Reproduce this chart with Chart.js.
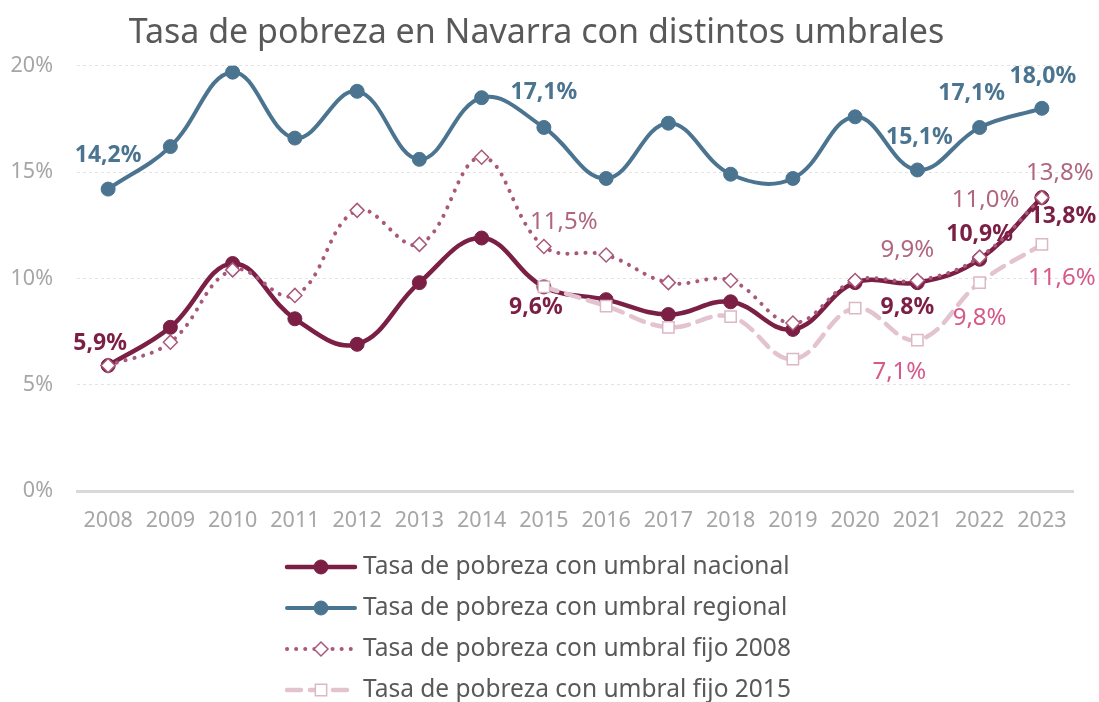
<!DOCTYPE html>
<html>
<head>
<meta charset="utf-8">
<script src="https://cdn.jsdelivr.net/npm/chart.js@4.4.0/dist/chart.umd.min.js"></script>
<style>
  html, body { margin: 0; padding: 0; background: #fff; overflow: hidden; }
</style>
</head>
<body>
<canvas id="grafico_pobreza" width="1099" height="702"></canvas>
<script>
// datos
const anios = ['2008','2009','2010','2011','2012','2013','2014','2015','2016','2017','2018','2019','2020','2021','2022','2023'];
const umbralNacional = [5.9, 7.7, 10.7, 8.1, 6.9, 9.8, 11.9, 9.6, 9.0, 8.3, 8.9, 7.6, 9.8, 9.8, 10.9, 13.8];
const umbralRegional = [14.2, 16.2, 19.7, 16.6, 18.8, 15.6, 18.5, 17.1, 14.7, 17.3, 14.9, 14.7, 17.6, 15.1, 17.1, 18.0];
const umbralFijo2008 = [5.9, 7.0, 10.4, 9.2, 13.2, 11.6, 15.7, 11.5, 11.1, 9.8, 9.9, 7.9, 9.9, 9.9, 11.0, 13.8];
const umbralFijo2015 = [null, null, null, null, null, null, null, 9.6, 8.7, 7.7, 8.2, 6.2, 8.6, 7.1, 9.8, 11.6];
const ticksY = [0, 5, 10, 15, 20];

const nombres = [
  'Tasa de pobreza con umbral nacional',
  'Tasa de pobreza con umbral regional',
  'Tasa de pobreza con umbral fijo 2008',
  'Tasa de pobreza con umbral fijo 2015'
];

const fuente = "'Noto Sans', sans-serif";
const fmt = v => v.toFixed(1).replace('.', ',') + '%';

// etiquetas: indice del año, desplazamiento dx, dy
const etiquetas = [
  { ds: 0, color: '#7b1f45', bold: true, items: [[0,-8,-22],[7,-8,21],[13,-10,25],[14,0,-25],[15,21,19]] },
  { ds: 1, color: '#4b7490', bold: true, items: [[0,0,-34],[7,0,-35],[13,2,-33],[14,-8,-34],[15,1,-32]] },
  { ds: 2, color: '#b0667f', bold: false, items: [[7,20,-24],[13,-10,-30],[14,6,-57],[15,18,-24]] },
  { ds: 3, color: '#d6598a', bold: false, items: [[13,-18,32],[14,0,36],[15,20,34]] }
];

const pluginEtiquetas = {
  id: 'etiquetas',
  afterDatasetsDraw(chart) {
    const ctx = chart.ctx;
    ctx.save();
    ctx.textAlign = 'center';
    ctx.textBaseline = 'middle';
    etiquetas.forEach(e => {
      const meta = chart.getDatasetMeta(e.ds);
      const vals = chart.data.datasets[e.ds].data;
      ctx.fillStyle = e.color;
      ctx.font = (e.bold ? 'bold 23px ' : '24px ') + fuente;
      e.items.forEach(([i, dx, dy]) => {
        const p = meta.data[i];
        ctx.fillText(fmt(vals[i]), p.x + dx, p.y + dy);
      });
    });
    ctx.restore();
  }
};

const pluginLeyenda = {
  id: 'leyenda',
  afterDraw(chart) {
    const ctx = chart.ctx;
    ctx.save();
    chart.data.datasets.forEach((d, k) => {
      const y = 567 + k * 41;
      const x0 = 287, x1 = 355, xm = 321;
      ctx.strokeStyle = d.borderColor;
      ctx.lineWidth = d.borderWidth;
      ctx.lineCap = d.borderCapStyle || 'round';
      ctx.setLineDash(d.borderDash || []);
      ctx.beginPath();
      ctx.moveTo(x0, y);
      ctx.lineTo(x1, y);
      ctx.stroke();
      ctx.setLineDash([]);
      ctx.fillStyle = d.pointBackgroundColor;
      ctx.strokeStyle = d.pointBorderColor;
      ctx.lineWidth = d.pointBorderWidth;
      Chart.helpers.drawPoint(ctx, {
        pointStyle: d.pointStyle,
        radius: d.pointRadius,
        borderWidth: d.pointBorderWidth,
        rotation: 0
      }, xm, y);
      ctx.fillStyle = '#595959';
      ctx.font = '24.5px ' + fuente;
      ctx.textAlign = 'left';
      ctx.textBaseline = 'middle';
      ctx.fillText(d.label, 363, y);
    });
    ctx.restore();
  }
};

new Chart(document.getElementById('grafico_pobreza').getContext('2d'), {
  type: 'line',
  data: {
    labels: anios,
    datasets: [
      {
        label: nombres[0], data: umbralNacional, order: 4,
        borderColor: '#7b1f45', borderWidth: 4.5, tension: 0.4,
        pointStyle: 'circle', pointRadius: 7, pointBorderWidth: 1,
        pointBackgroundColor: '#7b1f45', pointBorderColor: '#7b1f45'
      },
      {
        label: nombres[1], data: umbralRegional, order: 3,
        borderColor: '#4b7490', borderWidth: 4, tension: 0.4,
        pointStyle: 'circle', pointRadius: 7, pointBorderWidth: 1,
        pointBackgroundColor: '#4b7490', pointBorderColor: '#4b7490'
      },
      {
        label: nombres[2], data: umbralFijo2008, order: 2,
        borderColor: '#a9587a', borderWidth: 4, borderDash: [0.1, 9], borderCapStyle: 'round', tension: 0.4,
        pointStyle: 'rectRot', pointRadius: 7, pointBorderWidth: 1.5,
        pointBackgroundColor: '#ffffff', pointBorderColor: '#a9587a'
      },
      {
        label: nombres[3], data: umbralFijo2015, order: 1,
        borderColor: '#e3c3cf', borderWidth: 4.5, borderDash: [14, 9], borderCapStyle: 'round', tension: 0.4,
        pointStyle: 'rect', pointRadius: 8, pointBorderWidth: 1.5,
        pointBackgroundColor: '#ffffff', pointBorderColor: '#dcb7c5'
      }
    ]
  },
  options: {
    responsive: false,
    animation: false,
    layout: { padding: { left: 0, right: 26, top: 0, bottom: 151 } },
    plugins: {
      legend: { display: false },
      tooltip: { enabled: false },
      title: {
        display: true,
        text: 'Tasa de pobreza en Navarra con distintos umbrales',
        color: '#595959',
        font: { family: fuente, size: 34, weight: 'normal' },
        padding: { top: 13, bottom: 12 }
      }
    },
    scales: {
      x: {
        offset: true,
        grid: { display: false, drawTicks: false },
        border: { display: true, color: '#d9d9d9', width: 3 },
        ticks: { color: '#a6a6a6', font: { family: fuente, size: 21.5 }, padding: 17, maxRotation: 0 },
        afterFit: s => { s.height = 60; }
      },
      y: {
        min: 0, max: 20,
        afterBuildTicks: s => { s.ticks = ticksY.map(v => ({ value: v })); },
        grid: {
          drawTicks: false,
          color: c => c.tick.value === 0 ? 'rgba(0,0,0,0)' : '#e4e4e4',
          lineWidth: 1
        },
        border: { display: false, dash: [3, 3] },
        ticks: { color: '#a6a6a6', font: { family: fuente, size: 21.5 }, padding: 24, callback: v => v + '%' },
        afterFit: s => { s.width = 77; }
      }
    }
  },
  plugins: [pluginEtiquetas, pluginLeyenda]
});
</script>
</body>
</html>
